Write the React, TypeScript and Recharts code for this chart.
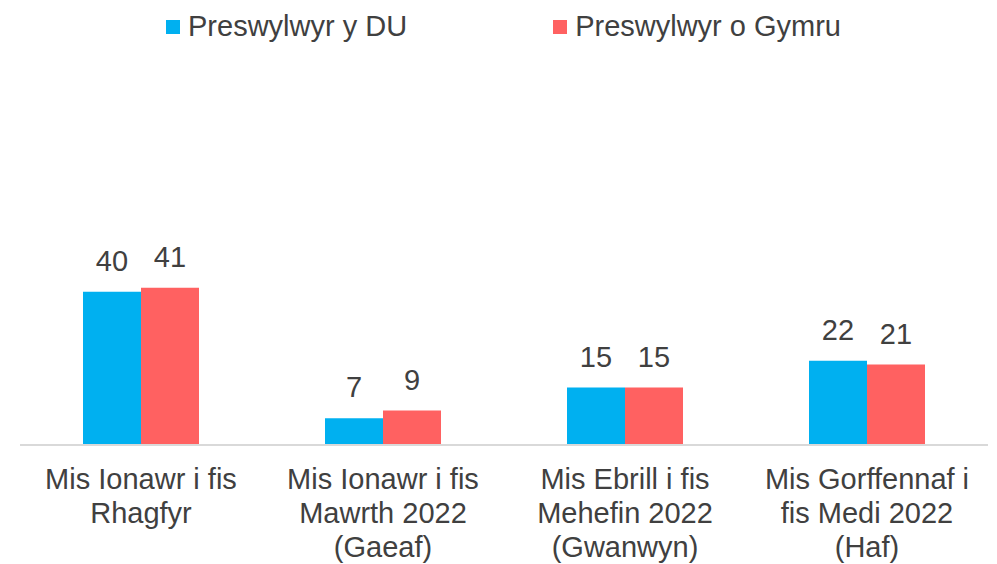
import React from 'react';
import { BarChart, Bar, XAxis, YAxis, LabelList } from 'recharts';

const categories = [
  'Mis Ionawr i fis\nRhagfyr',
  'Mis Ionawr i fis\nMawrth 2022\n(Gaeaf)',
  'Mis Ebrill i fis\nMehefin 2022\n(Gwanwyn)',
  'Mis Gorffennaf i\nfis Medi 2022\n(Haf)',
];
const ukResidents = [40, 7, 15, 22];
const walesResidents = [41, 9, 15, 21];
const seriesNames = ['Preswylwyr y DU', 'Preswylwyr o Gymru'];
const colors = ['#00B0F0', '#FF6161'];

const data = categories.map((name, i) => ({
  name,
  uk: ukResidents[i],
  wales: walesResidents[i],
}));

const FONT = '"Liberation Sans", Arial, sans-serif';
const TEXT = '#404040';

const CategoryTick = (props: any) => {
  const { x, y, payload } = props;
  const lines = String(payload.value).split('\n');
  return (
    <text x={x} y={y} textAnchor="middle" fill={TEXT} fontSize={29} fontFamily={FONT}>
      {lines.map((line, i) => (
        <tspan key={i} x={x} dy={i === 0 ? 36 : 34}>
          {line}
        </tspan>
      ))}
    </text>
  );
};

export default function App() {
  return (
    <div style={{ position: 'absolute', left: 0, top: 0, width: 997, height: 564, background: '#fff', fontFamily: FONT }}>
      <div
        style={{
          position: 'absolute',
          top: 10,
          left: 0,
          width: 997,
          display: 'flex',
          justifyContent: 'center',
          alignItems: 'center',
          gap: 146,
          paddingLeft: 10,
          boxSizing: 'border-box',
        }}
      >
        {seriesNames.map((s, i) => (
          <div key={s} style={{ display: 'flex', alignItems: 'center', color: TEXT, fontSize: 29 }}>
            <span style={{ width: 14, height: 14, background: colors[i], marginRight: 8, display: 'inline-block' }} />
            <span>{s}</span>
          </div>
        ))}
      </div>
      <BarChart
        width={997}
        height={564}
        data={data}
        margin={{ top: 215, right: 9, left: 20, bottom: 0 }}
        barGap={0}
        barSize={58}
      >
        <XAxis
          dataKey="name"
          height={119}
          tickLine={false}
          axisLine={{ stroke: '#D9D9D9', strokeWidth: 2 }}
          tick={<CategoryTick />}
          interval={0}
        />
        <YAxis hide domain={[0, 60]} />
        <Bar dataKey="uk" fill={colors[0]} isAnimationActive={false}>
          <LabelList dataKey="uk" position="top" offset={21} fill={TEXT} fontSize={29} fontFamily={FONT} />
        </Bar>
        <Bar dataKey="wales" fill={colors[1]} isAnimationActive={false}>
          <LabelList dataKey="wales" position="top" offset={21} fill={TEXT} fontSize={29} fontFamily={FONT} />
        </Bar>
      </BarChart>
    </div>
  );
}
